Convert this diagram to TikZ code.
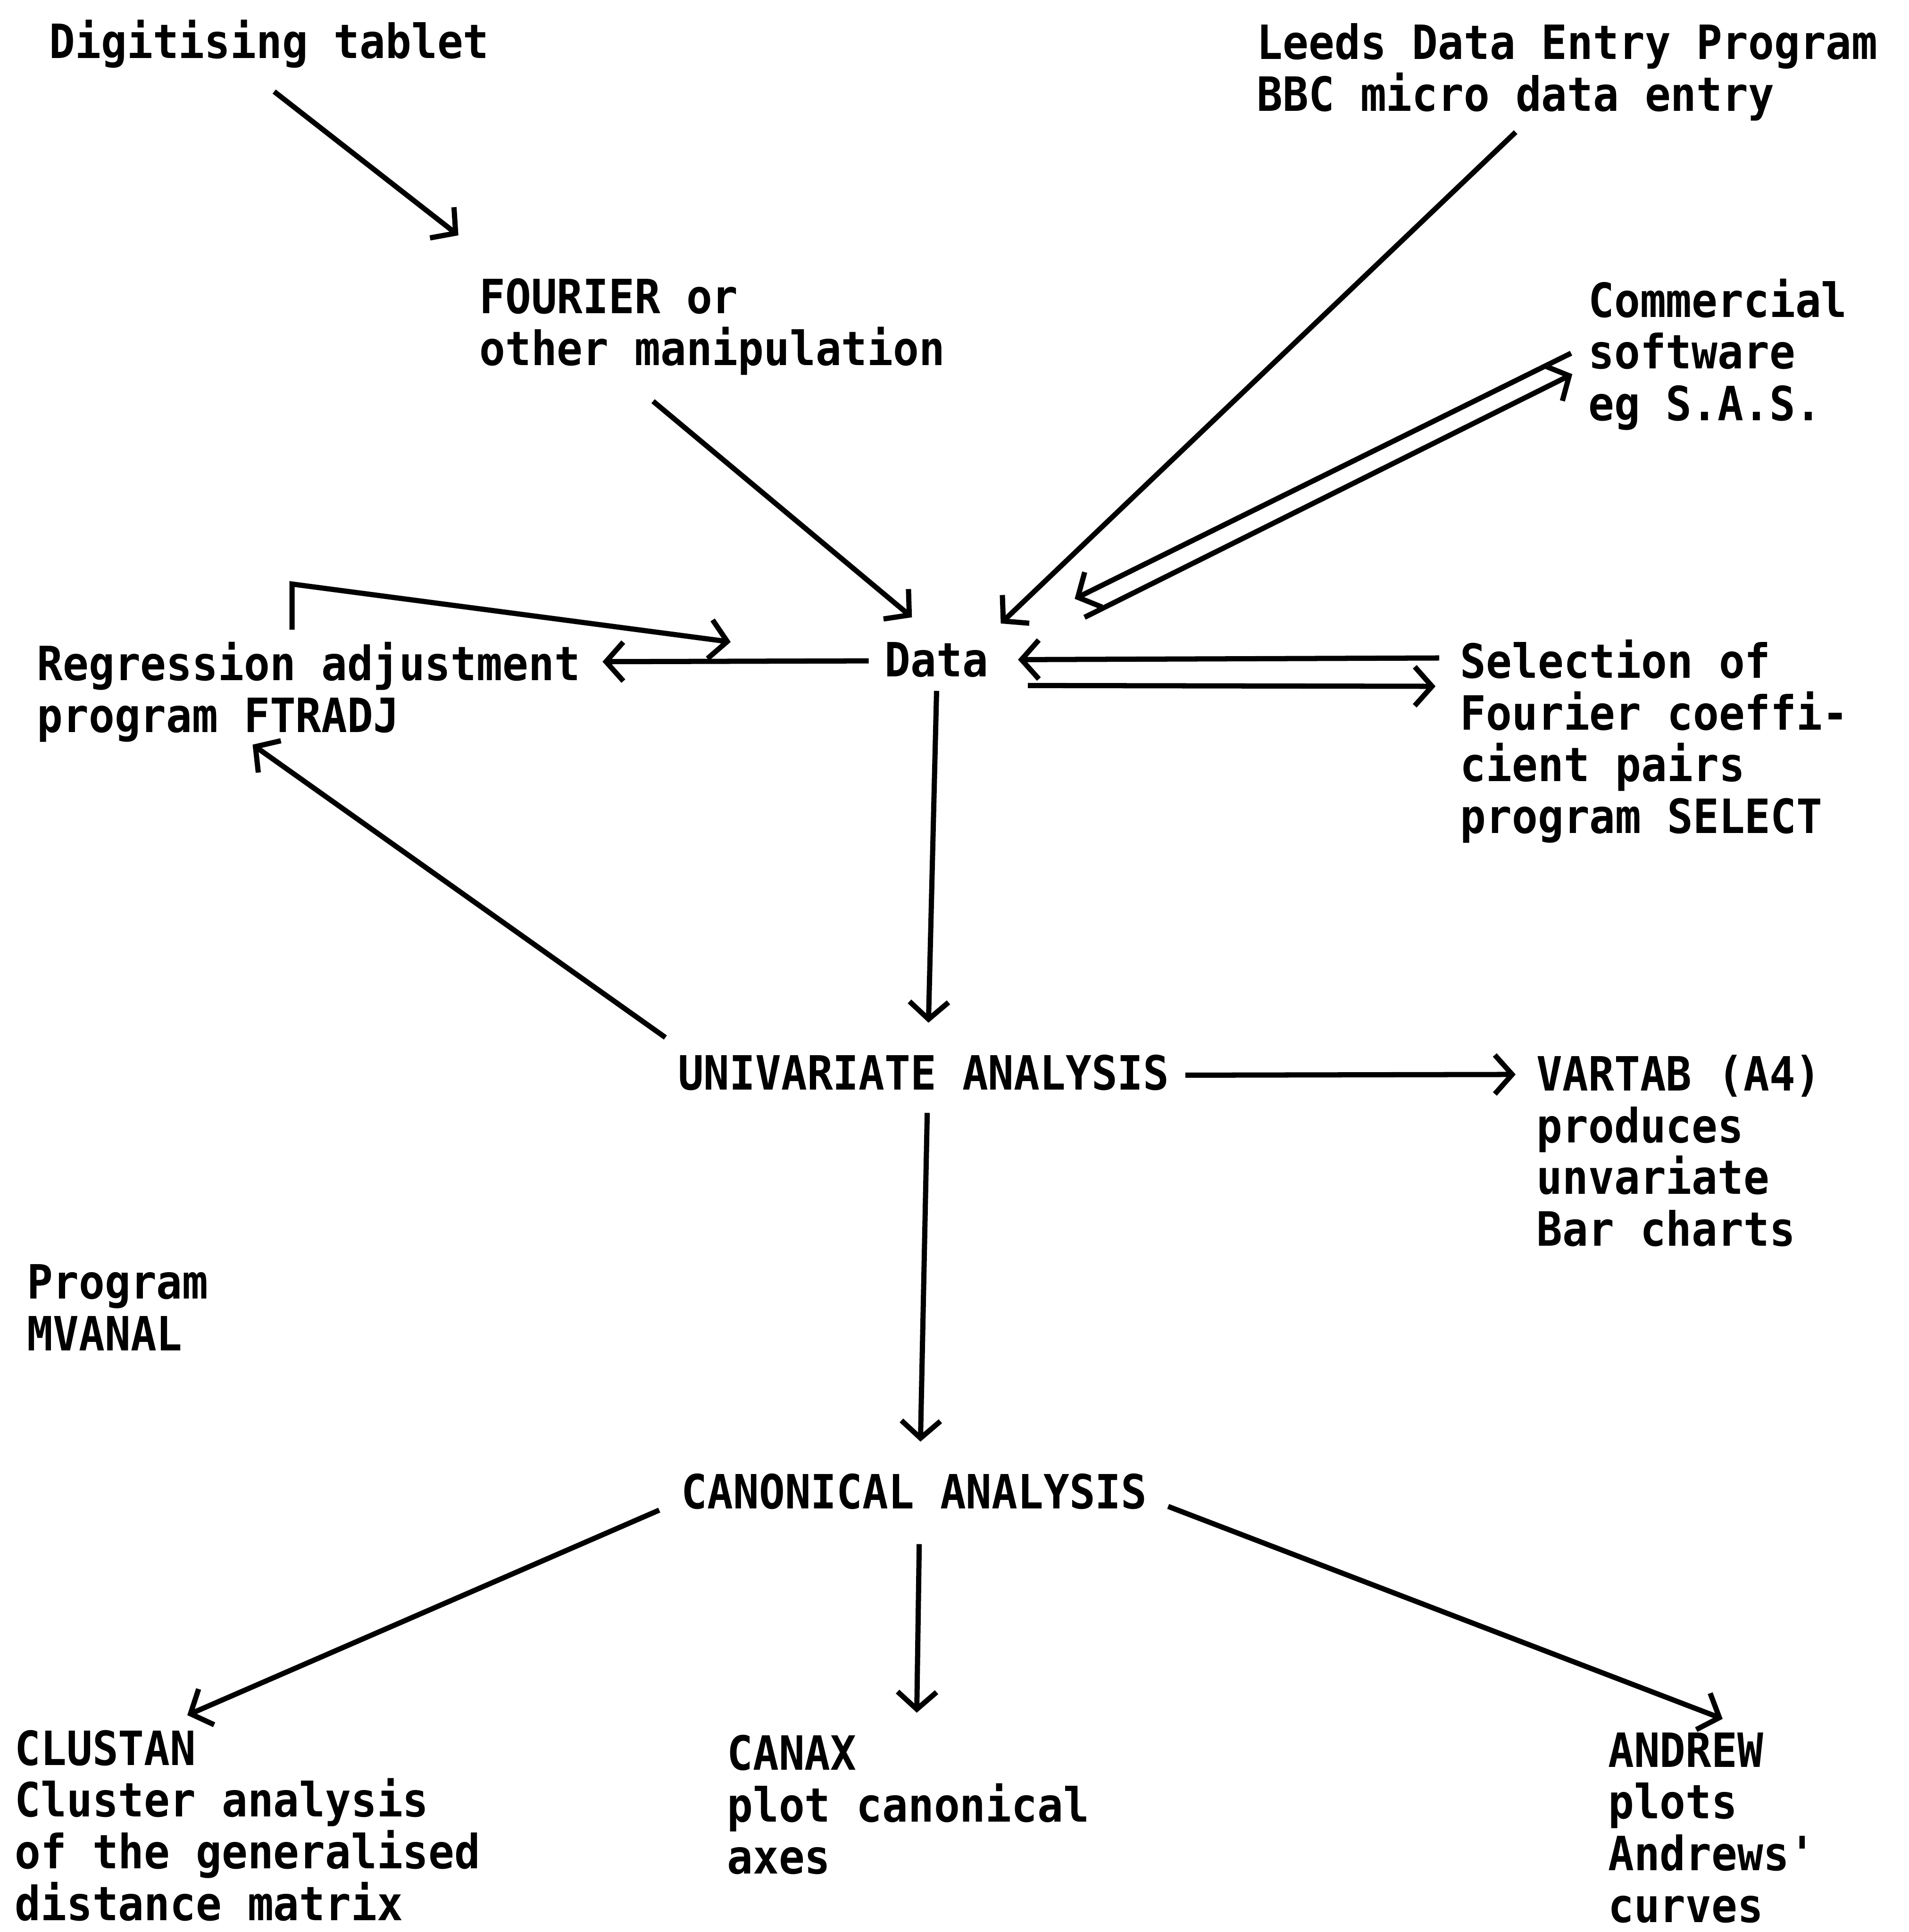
\documentclass[tikz,border=0pt]{standalone}
\usepackage{fontspec}
\newfontfamily\dotfont{DejaVu Sans Mono}[FakeStretch=0.91]
\usetikzlibrary{arrows.meta}

\begin{document}
\begin{tikzpicture}[x=0.1mm,y=-0.1mm,line width=1.2pt,
    >={Straight Barb[length=4pt,width=9pt]},
    lbl/.style={anchor=north west,inner sep=0pt,align=left,font=\dotfont\bfseries\fontsize{10.9pt}{11.95pt}\selectfont}]
  \useasboundingbox (0,0) rectangle (1549,1568);
  % sources
  \node[lbl] (dig) at (38,14) {Digitising tablet};
  \node[lbl] (leeds) at (1018,17) {Leeds Data Entry Program\\BBC micro data entry};
  \node[lbl] (fourier) at (387,224) {FOURIER or\\other manipulation};
  \node[lbl] (commercial) at (1287,224) {Commercial\\software\\eg S.A.S.};
  % data and its programs
  \node[lbl] (regress) at (28,519) {Regression adjustment\\program FTRADJ};
  \node[lbl] (data) at (716,519) {Data};
  \node[lbl] (select) at (1183,517) {Selection of\\Fourier coeffi-\\cient pairs\\program SELECT};
  % MVANAL
  \node[lbl] (univar) at (548,854) {UNIVARIATE ANALYSIS};
  \node[lbl] (vartab) at (1245,854) {VARTAB (A4)\\produces\\unvariate\\Bar charts};
  \node[lbl] (mvanal) at (20,1024) {Program\\MVANAL};
  \node[lbl] (canon) at (551,1194) {CANONICAL ANALYSIS};
  \node[lbl] (clustan) at (10,1402) {CLUSTAN\\Cluster analysis\\of the generalised\\distance matrix};
  \node[lbl] (canax) at (588,1406) {CANAX\\plot canonical\\axes};
  \node[lbl] (andrew) at (1303,1404) {ANDREW\\plots\\Andrews'\\curves};

  \draw[->] ([shift={(4,17)}]dig.south) -- ([shift={(-15,-33)}]fourier.north west);
  \draw[->] ([shift={(143,19)}]fourier.south west) -- ([shift={(-20,-18)}]data.north);
  \draw[->] ([shift={(212,7)}]leeds.south west) -- ([shift={(8,-13)}]data.north east);
  \draw[->] ([shift={(-12,-1)}]commercial.west) -- ([shift={(68,-33)}]data.north east);
  \draw[->] ([shift={(76,-18)}]data.north east) -- ([shift={(-11,16)}]commercial.west);
  \draw[->] ([shift={(-11,1)}]data.west) -- ([shift={(16,18)}]regress.north east);
  \draw[->] ([shift={(209,-8)}]regress.north west) -- ++(0,-37)
    -- ([shift={(-123,2)}]data.north west);
  \draw[->] ([shift={(-15,17)}]select.north west) -- ([shift={(22,0)}]data.east);
  \draw[->] ([shift={(30,21)}]data.east) -- ([shift={(-18,40)}]select.north west);
  \draw[->] ([shift={(0,9)}]data.south) -- ([shift={(4,-24)}]univar.north);
  \draw[->] ([shift={(-8,-12)}]univar.north west) -- ([shift={(177,0)}]regress.south west);
  \draw[->] ([shift={(11,2)}]univar.east) -- ([shift={(-15,18)}]vartab.north west);
  \draw[->] ([shift={(3,16)}]univar.south) -- ([shift={(5,-24)}]canon.north);
  \draw[->] ([shift={(-16,15)}]canon.west) -- ([shift={(142,-10)}]clustan.north west);
  \draw[->] ([shift={(4,26)}]canon.south) -- ([shift={(156,-16)}]canax.north west);
  \draw[->] ([shift={(15,12)}]canon.east) -- ([shift={(95,-9)}]andrew.north west);
\end{tikzpicture}
\end{document}
